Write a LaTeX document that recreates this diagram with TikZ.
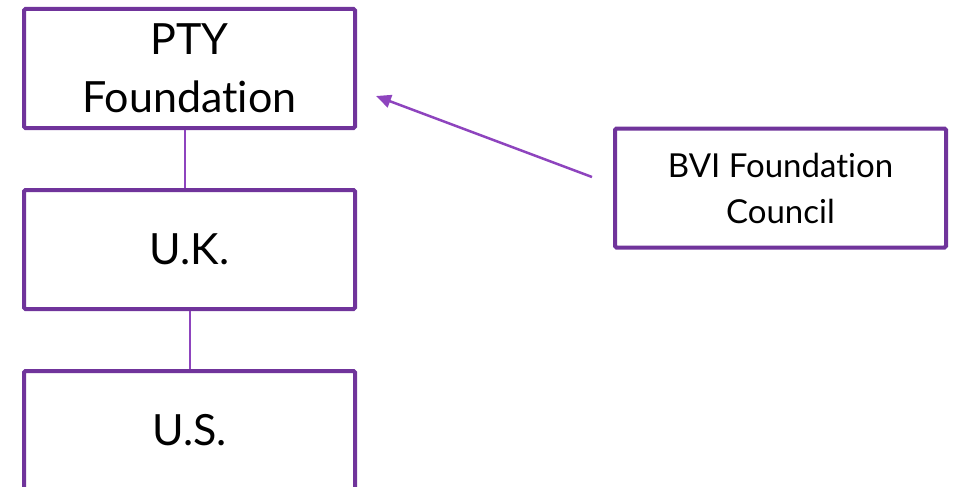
\documentclass[tikz,border=0pt]{standalone}
\usepackage{fontspec}
\setmainfont[Ligatures={NoCommon,NoDiscretionary,NoRare,NoContextual}]{Lato}
\usetikzlibrary{arrows.meta}
\definecolor{boxpurple}{RGB}{112,52,155}
\definecolor{linkpurple}{RGB}{142,68,190}
\begin{document}
\begin{tikzpicture}[x=1pt,y=1pt,
  entity/.style={draw=boxpurple, line width=4pt, rounded corners=1.5pt,
    fill=white, minimum width=331pt, minimum height=119pt, inner sep=0pt,
    align=center, text=black},
  bigtext/.style={font=\fontsize{43}{58}\selectfont},
  smalltext/.style={font=\fontsize{33}{46}\selectfont},
  link/.style={draw=linkpurple, line width=2pt},
  pointer/.style={draw=linkpurple, fill=linkpurple, line width=2.5pt,
    -{Triangle[length=15pt,width=13pt]}}]
  \useasboundingbox (0,0) rectangle (954,-487);
  % structure chain
  \node[entity, bigtext] (pty) at (189.5,-68.5) {PTY\\Foundation};
  \node[entity, bigtext] (uk)  at (189.5,-249.5) {U.K.};
  \node[entity, bigtext] (us)  at (189.5,-430.5) {U.S.};
  % council
  \node[entity, smalltext] (bvi) at (780.5,-188) {BVI Foundation\\Council};
  % vertical links
  \draw[link] ([xshift=-4.5pt]pty.south) -- ([xshift=-4.5pt]uk.north);
  \draw[link] ([xshift=0.5pt]uk.south) -- ([xshift=0.5pt]us.north);
  % council pointing to the foundation
  \coordinate (ptrstart) at ([shift={(-21,11)}]bvi.west);
  \coordinate (ptrend) at ([shift={(19,-27.5)}]pty.east);
  \draw[pointer] (ptrstart) -- (ptrend);
\end{tikzpicture}
\end{document}
